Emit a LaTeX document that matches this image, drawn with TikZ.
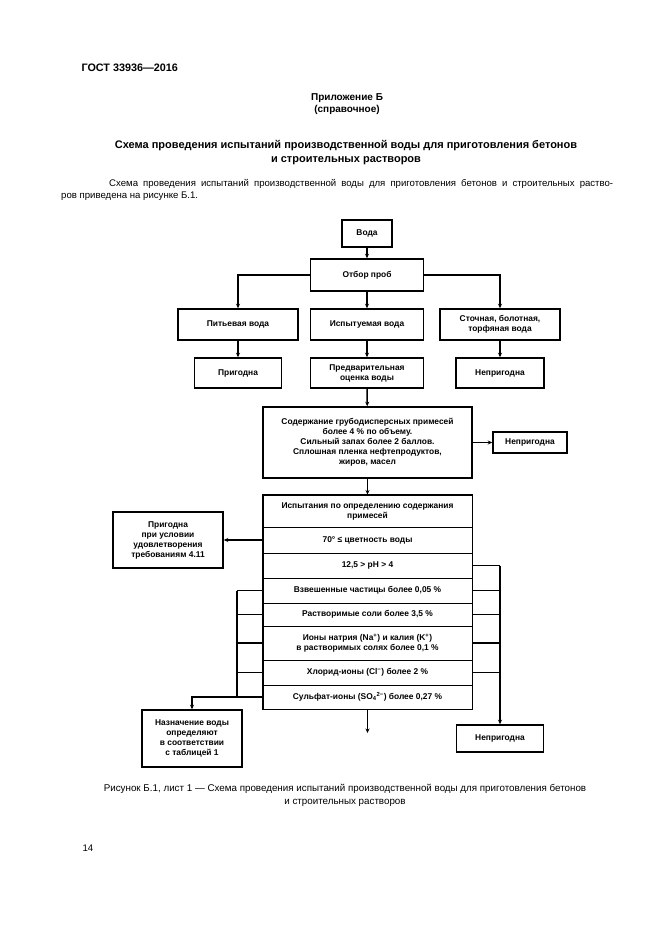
\documentclass[tikz,border=0pt]{standalone}
\usepackage{fontspec}
\setmainfont{Liberation Sans}
\usetikzlibrary{arrows.meta}

\tikzset{
	box/.style={draw, line width=1.5pt, align=center, inner sep=1pt, font=\fontsize{8.4}{10}\selectfont\bfseries},
	row/.style={draw, line width=1pt, minimum width=209pt, align=center, inner sep=1pt, font=\fontsize{8.4}{10}\selectfont\bfseries},
	arr/.style={-{Stealth[length=4.5pt,width=4pt]}, line width=1.5pt},
	link/.style={line width=1.4pt}
}

\begin{document}
\begin{tikzpicture}[x=1pt, y=-1pt]
	\useasboundingbox[fill=white] (0,0) rectangle (661,935);
	
	% page text
	\node[anchor=west, font=\fontsize{10.8}{13}\selectfont\bfseries] (gost) at (78,68) {ГОСТ 33936—2016};
	\node[align=center, font=\fontsize{10}{12.5}\selectfont\bfseries] (pril) at (347,104) {Приложение Б\\(справочное)};
	\node[align=center, font=\fontsize{11}{14}\selectfont\bfseries] (title) at (346,153) {Схема проведения испытаний производственной воды для приготовления бетонов\\и строительных растворов};
	\node[anchor=north west, text width=552pt, align=justify, inner sep=0pt, font=\fontsize{9.6}{12.5}\selectfont] (para) at (61,179) {\hspace*{48pt}Схема проведения испытаний производственной воды для приготовления бетонов и строительных раство-\linebreak ров приведена на рисунке Б.1.};
	
	% upper part
	\node[box, minimum width=50pt, minimum height=27pt] (voda) at (367,233.5) {Вода};
	\node[box, minimum width=113pt, minimum height=32pt] (otbor) at (367,275) {Отбор проб};
	\node[box, minimum width=120pt, minimum height=31pt] (pitev) at (238,324.5) {Питьевая вода};
	\node[box, minimum width=113pt, minimum height=31pt] (ispyt) at (367,324.5) {Испытуемая вода};
	\node[box, minimum width=120pt, minimum height=31pt] (stoch) at (500,324.5) {Сточная, болотная,\\торфяная вода};
	\node[box, minimum width=87pt, minimum height=30pt] (prig) at (238,373) {Пригодна};
	\node[box, minimum width=113pt, minimum height=30pt] (predv) at (367,373) {Предварительная\\оценка воды};
	\node[box, minimum width=88pt, minimum height=30pt] (neprigA) at (500,373) {Непригодна};
	\node[box, minimum width=209pt, minimum height=71pt] (sod) at (367.5,442.5) {Содержание грубодисперсных примесей\\более 4~\% по объему.\\Сильный запах более 2 баллов.\\Сплошная пленка нефтепродуктов,\\жиров, масел};
	\node[box, minimum width=74pt, minimum height=21pt] (neprigB) at (530,442.5) {Непригодна};
	
	% tests
	\node[row, minimum height=32pt] (r1) at (367.5,511) {Испытания по определению содержания\\примесей};
	\node[row, minimum height=26pt] (r2) at (367.5,540) {70° ≤ цветность воды};
	\node[row, minimum height=25pt] (r3) at (367.5,565.5) {12,5 > pH > 4};
	\node[row, minimum height=25pt] (r4) at (367.5,590.5) {Взвешенные частицы более 0,05~\%};
	\node[row, minimum height=23pt] (r5) at (367.5,614.5) {Растворимые соли более 3,5~\%};
	\node[row, minimum height=34pt] (r6) at (367.5,643) {Ионы натрия (Na\textsuperscript{+}) и калия (K\textsuperscript{+})\\в растворимых солях более 0,1~\%};
	\node[row, minimum height=25pt] (r7) at (367.5,672.5) {Хлорид-ионы (Cl\textsuperscript{−}) более 2~\%};
	\node[row, minimum height=24pt] (r8) at (367.5,697) {Сульфат-ионы (SO\textsubscript{4}\textsuperscript{2−}) более 0,27~\%};
	\draw[line width=1.5pt] (r1.north west) rectangle (r8.south east);
	
	\node[box, minimum width=110pt, minimum height=56pt] (usl) at (168,540) {Пригодна\\при условии\\удовлетворения\\требованиям 4.11};
	\node[box, minimum width=100pt, minimum height=57pt] (naznach) at (192,738.5) {Назначение воды\\определяют\\в соответствии\\с таблицей 1};
	\node[box, minimum width=87pt, minimum height=27pt] (neprigC) at (500,738.5) {Непригодна};
	
	% connectors
	\draw[arr] (voda) -- (otbor);
	\draw[arr] (otbor.west) -| (pitev.north);
	\draw[arr] (otbor) -- (ispyt);
	\draw[arr] (otbor.east) -| (stoch.north);
	\draw[arr] (pitev) -- (prig);
	\draw[arr] (ispyt) -- (predv);
	\draw[arr] (stoch) -- (neprigA);
	\draw[arr] (predv) -- (sod);
	\draw[arr] (sod) -- (neprigB);
	\draw[arr] (sod) -- (r1);
	\draw[arr] (r2.west) -- (usl.east);
	
	\coordinate (lb) at (237,590.5);
	\foreach \r in {r4,r5,r6,r7}
		\draw[link] (\r.west) -- (\r.west -| lb);
	\draw[link] (lb) -- (lb |- r8.west);
	\draw[arr] (r8.west) -| (naznach.north);
	
	\coordinate (rb) at (500,565.5);
	\foreach \r in {r3,r4,r5,r6,r7}
		\draw[link] (\r.east) -- (\r.east -| rb);
	\draw[arr] (rb) -- (neprigC.north);
	
	\coordinate (out) at (367.5,733);
	\draw[arr] (r8.south) -- (out);
	
	% caption
	\node[align=center, font=\fontsize{9.8}{13}\selectfont] (cap) at (345,795.5) {Рисунок Б.1, лист 1 — Схема проведения испытаний производственной воды для приготовления бетонов\\и строительных растворов};
	\node[anchor=west, font=\fontsize{9.6}{12}\selectfont] (page) at (79,848) {14};
\end{tikzpicture}
\end{document}
